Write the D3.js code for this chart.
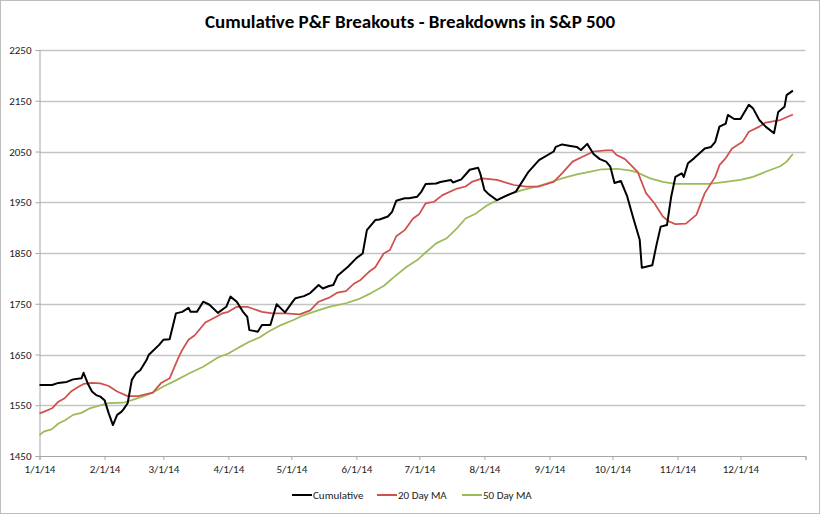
<!DOCTYPE html>
<html>
<head>
<meta charset="utf-8">
<script src="https://cdn.jsdelivr.net/npm/d3@7"></script>
<style>
  html, body { margin: 0; padding: 0; background: #fff; }
  svg text { font-family: Carlito, "Liberation Sans Narrow", "Open Sans", sans-serif; }
</style>
</head>
<body>
<svg id="chart" width="820" height="514"></svg>
<script>
const titleText = "Cumulative P&F Breakouts - Breakdowns in S&P 500";
const seriesNames = ["Cumulative", "20 Day MA", "50 Day MA"];
const yTicks = [1450, 1550, 1650, 1750, 1850, 1950, 2050, 2150, 2250];
const xTickDates = ["2014-01-01","2014-02-01","2014-03-01","2014-04-01","2014-05-01","2014-06-01","2014-07-01","2014-08-01","2014-09-01","2014-10-01","2014-11-01","2014-12-01","2015-01-01"];

const cumulativeDates = ["2014-01-01","2014-01-07","2014-01-10","2014-01-14","2014-01-17","2014-01-21","2014-01-22","2014-01-24","2014-01-26","2014-01-28","2014-01-30","2014-02-01","2014-02-03","2014-02-05","2014-02-07","2014-02-09","2014-02-10","2014-02-12","2014-02-14","2014-02-16","2014-02-18","2014-02-21","2014-02-22","2014-02-27","2014-03-01","2014-03-04","2014-03-07","2014-03-10","2014-03-13","2014-03-14","2014-03-17","2014-03-20","2014-03-23","2014-03-27","2014-03-31","2014-04-02","2014-04-05","2014-04-08","2014-04-10","2014-04-11","2014-04-15","2014-04-17","2014-04-21","2014-04-24","2014-04-28","2014-05-02","2014-05-03","2014-05-07","2014-05-10","2014-05-14","2014-05-16","2014-05-19","2014-05-21","2014-05-23","2014-05-28","2014-06-01","2014-06-04","2014-06-06","2014-06-10","2014-06-12","2014-06-16","2014-06-18","2014-06-20","2014-06-24","2014-06-26","2014-06-30","2014-07-02","2014-07-04","2014-07-09","2014-07-11","2014-07-16","2014-07-17","2014-07-21","2014-07-25","2014-07-29","2014-07-30","2014-08-01","2014-08-03","2014-08-07","2014-08-11","2014-08-16","2014-08-22","2014-08-27","2014-09-03","2014-09-04","2014-09-07","2014-09-11","2014-09-14","2014-09-16","2014-09-19","2014-09-22","2014-09-25","2014-09-28","2014-09-30","2014-10-02","2014-10-05","2014-10-08","2014-10-11","2014-10-14","2014-10-15","2014-10-17","2014-10-20","2014-10-22","2014-10-24","2014-10-27","2014-10-29","2014-10-31","2014-11-03","2014-11-04","2014-11-06","2014-11-09","2014-11-14","2014-11-17","2014-11-19","2014-11-21","2014-11-24","2014-11-25","2014-11-28","2014-12-01","2014-12-05","2014-12-07","2014-12-10","2014-12-13","2014-12-17","2014-12-19","2014-12-22","2014-12-23","2014-12-26"];
const cumulativeValues = [1590,1590,1594,1596,1601,1603,1614,1593,1577,1570,1567,1560,1534,1511,1531,1537,1542,1554,1600,1613,1619,1639,1649,1669,1679,1680,1731,1734,1742,1734,1734,1754,1748,1732,1744,1764,1754,1734,1724,1698,1695,1708,1708,1749,1733,1756,1761,1765,1771,1787,1780,1785,1787,1805,1823,1840,1849,1895,1915,1916,1922,1931,1953,1958,1958,1961,1971,1986,1987,1990,1994,1989,1995,2014,2018,2007,1974,1966,1954,1962,1971,2010,2033,2050,2059,2064,2061,2059,2053,2065,2045,2035,2030,2020,1988,1992,1962,1918,1876,1821,1823,1826,1866,1902,1905,1961,2000,2007,2000,2027,2037,2056,2059,2069,2099,2105,2122,2114,2114,2142,2135,2112,2099,2086,2128,2138,2161,2170];

const ma20Dates = ["2014-01-01","2014-01-03","2014-01-07","2014-01-10","2014-01-13","2014-01-16","2014-01-19","2014-01-22","2014-01-26","2014-01-30","2014-02-03","2014-02-07","2014-02-12","2014-02-17","2014-02-24","2014-02-28","2014-03-04","2014-03-08","2014-03-10","2014-03-13","2014-03-16","2014-03-21","2014-03-26","2014-03-29","2014-04-01","2014-04-05","2014-04-10","2014-04-17","2014-04-22","2014-04-28","2014-05-05","2014-05-10","2014-05-14","2014-05-19","2014-05-23","2014-05-27","2014-05-31","2014-06-03","2014-06-07","2014-06-10","2014-06-14","2014-06-17","2014-06-20","2014-06-24","2014-06-28","2014-07-01","2014-07-04","2014-07-08","2014-07-12","2014-07-19","2014-07-23","2014-07-26","2014-07-31","2014-08-07","2014-08-15","2014-08-21","2014-08-27","2014-09-03","2014-09-07","2014-09-12","2014-09-17","2014-09-22","2014-09-28","2014-10-01","2014-10-03","2014-10-07","2014-10-13","2014-10-17","2014-10-21","2014-10-25","2014-10-28","2014-10-31","2014-11-05","2014-11-10","2014-11-14","2014-11-19","2014-11-21","2014-11-24","2014-11-27","2014-12-02","2014-12-05","2014-12-10","2014-12-13","2014-12-20","2014-12-26"];
const ma20Values = [1534,1537,1544,1557,1564,1577,1585,1592,1594,1593,1588,1577,1568,1568,1575,1594,1603,1642,1659,1679,1688,1713,1724,1731,1734,1744,1744,1734,1731,1731,1729,1737,1754,1762,1772,1775,1790,1797,1813,1822,1849,1856,1883,1895,1918,1927,1948,1951,1964,1977,1981,1990,1997,1994,1984,1981,1981,1990,2007,2030,2040,2050,2052,2052,2043,2035,2010,1968,1948,1922,1912,1907,1908,1925,1968,2000,2023,2037,2056,2069,2089,2099,2107,2112,2123];

const ma50Dates = ["2014-01-01","2014-01-03","2014-01-07","2014-01-10","2014-01-13","2014-01-17","2014-01-21","2014-01-25","2014-01-30","2014-02-03","2014-02-10","2014-02-14","2014-02-19","2014-02-24","2014-03-01","2014-03-07","2014-03-13","2014-03-20","2014-03-27","2014-04-01","2014-04-06","2014-04-11","2014-04-16","2014-04-20","2014-04-26","2014-05-02","2014-05-06","2014-05-13","2014-05-19","2014-05-27","2014-06-02","2014-06-08","2014-06-14","2014-06-19","2014-06-25","2014-06-30","2014-07-04","2014-07-09","2014-07-14","2014-07-19","2014-07-23","2014-07-28","2014-08-02","2014-08-07","2014-08-13","2014-08-19","2014-08-26","2014-09-01","2014-09-07","2014-09-14","2014-09-20","2014-09-26","2014-10-03","2014-10-09","2014-10-12","2014-10-19","2014-10-25","2014-10-31","2014-11-08","2014-11-16","2014-11-24","2014-12-01","2014-12-07","2014-12-13","2014-12-20","2014-12-23","2014-12-26"];
const ma50Values = [1491,1498,1503,1514,1520,1531,1535,1544,1550,1554,1555,1560,1567,1575,1587,1599,1612,1626,1644,1652,1664,1675,1684,1695,1708,1718,1726,1736,1744,1751,1759,1771,1785,1803,1823,1836,1851,1869,1879,1899,1918,1928,1943,1954,1966,1974,1981,1989,1997,2005,2010,2015,2016,2013,2010,1997,1990,1986,1986,1986,1990,1994,2000,2010,2021,2030,2045];

const colors = ["#000000", "#d0504d", "#9bbb59"];
const widths = [2, 1.75, 1.75];

const parse = d3.timeParse("%Y-%m-%d");
const series = [
  {name: seriesNames[0], pts: cumulativeDates.map((d,i)=>({date: parse(d), v: cumulativeValues[i]}))},
  {name: seriesNames[1], pts: ma20Dates.map((d,i)=>({date: parse(d), v: ma20Values[i]}))},
  {name: seriesNames[2], pts: ma50Dates.map((d,i)=>({date: parse(d), v: ma50Values[i]}))}
];

const svg = d3.select("#chart");
const W = 820, H = 514;
const plotL = 39.5, plotR = 805.5, plotT = 50, plotB = 456;

svg.append("rect").attr("x",0.5).attr("y",0.5).attr("width",W-1).attr("height",H-1)
  .attr("fill","#fff").attr("stroke","#bdbdbd").attr("stroke-width",1);

const x = d3.scaleTime().domain([parse(xTickDates[0]), parse(xTickDates[xTickDates.length-1])]).range([plotL, plotR]);
const y = d3.scaleLinear().domain([yTicks[0], yTicks[yTicks.length-1]]).range([plotB, plotT]);

// gridlines
svg.append("g").selectAll("line").data(yTicks.slice(1)).join("line")
  .attr("x1", plotL).attr("x2", plotR)
  .attr("y1", d=>Math.round(y(d))+0.5).attr("y2", d=>Math.round(y(d))+0.5)
  .attr("stroke","#c4c4c4").attr("stroke-width",1.3);

// y axis
const yAxis = d3.axisLeft(y).tickValues(yTicks).tickSize(4).tickPadding(4).tickFormat(d3.format("d"));
const gy = svg.append("g").attr("transform",`translate(${plotL},0)`).call(yAxis);
gy.select(".domain").attr("stroke","#a6a6a6");
gy.selectAll(".tick line").attr("stroke","#a6a6a6");
gy.selectAll("text").attr("font-size",11).attr("fill","#222");

// x axis
const xAxis = d3.axisBottom(x).tickValues(xTickDates.map(parse)).tickSize(4).tickPadding(5)
  .tickFormat((d,i)=> i === xTickDates.length-1 ? "" : d3.timeFormat("%-m/%-d/%y")(d));
const gx = svg.append("g").attr("transform",`translate(0,${plotB})`).call(xAxis);
gx.select(".domain").attr("stroke","#a6a6a6");
gx.selectAll(".tick line").attr("stroke","#a6a6a6");
gx.selectAll("text").attr("font-size",11).attr("fill","#222");

// lines
const line = d3.line().x(d=>x(d.date)).y(d=>y(d.v));
series.slice().reverse().forEach((s, ri) => {
  const i = series.length - 1 - ri;
  svg.append("path").datum(s.pts).attr("d", line)
    .attr("fill","none").attr("stroke", colors[i]).attr("stroke-width", widths[i])
    .attr("stroke-linejoin","round");
});

// title
svg.append("text").attr("x", 410).attr("y", 28).attr("text-anchor","middle")
  .attr("font-size", 19).attr("font-weight","bold").attr("fill","#000").text(titleText);

// legend
const legendX = [292, 377, 462];
const lg = svg.append("g");
seriesNames.forEach((n,i)=>{
  lg.append("line").attr("x1", legendX[i]).attr("x2", legendX[i]+20).attr("y1",495).attr("y2",495)
    .attr("stroke", colors[i]).attr("stroke-width", 2);
  lg.append("text").attr("x", legendX[i]+21).attr("y", 499).attr("font-size",11).attr("fill","#222").text(n);
});
</script>
</body>
</html>
